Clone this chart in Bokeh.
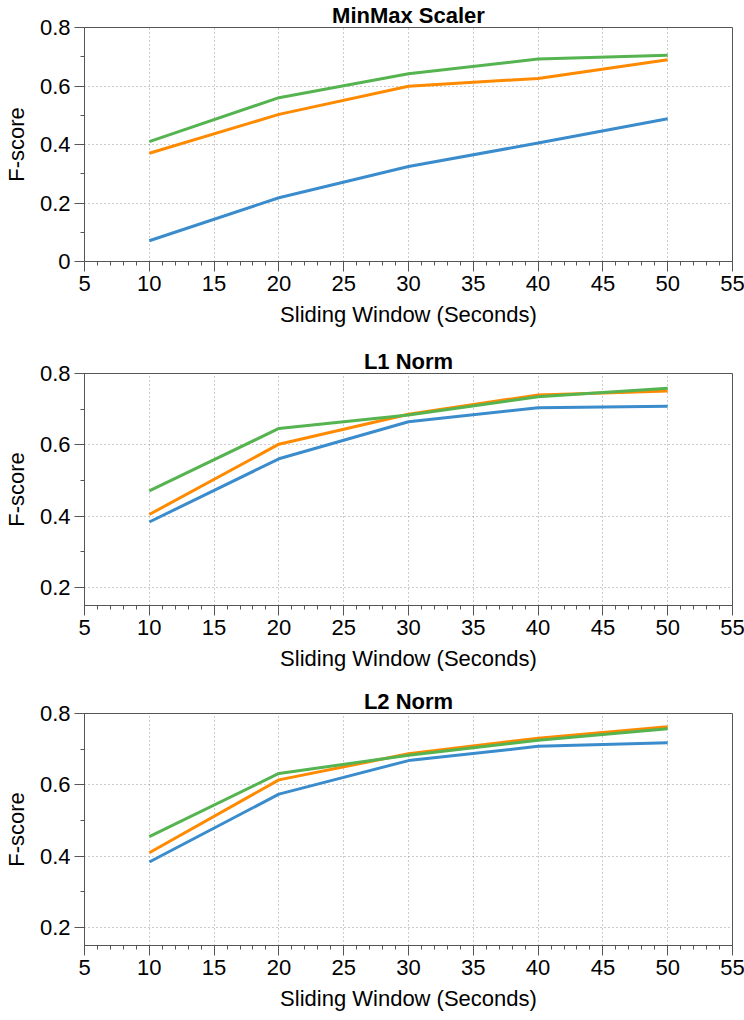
from bokeh.plotting import figure
from bokeh.layouts import column
from bokeh.models import FixedTicker, SingleIntervalTicker, Range1d
from bokeh.embed import file_html
from bokeh.resources import INLINE

# ---- data ----
windows = [10, 20, 30, 40, 50]
titles = ["MinMax Scaler", "L1 Norm", "L2 Norm"]

minmax_blue = [0.071, 0.218, 0.325, 0.405, 0.488]
minmax_orange = [0.370, 0.503, 0.599, 0.626, 0.690]
minmax_green = [0.410, 0.560, 0.642, 0.692, 0.705]

l1_blue = [0.384, 0.561, 0.665, 0.704, 0.708]
l1_orange = [0.405, 0.602, 0.686, 0.740, 0.751]
l1_green = [0.471, 0.646, 0.684, 0.735, 0.759]

l2_blue = [0.384, 0.574, 0.668, 0.708, 0.718]
l2_orange = [0.410, 0.614, 0.687, 0.731, 0.763]
l2_green = [0.455, 0.632, 0.683, 0.725, 0.757]

y_ticks_full = [0, 0.2, 0.4, 0.6, 0.8]
y_minor_full = [0.1, 0.3, 0.5, 0.7]
y_ticks_part = [0.2, 0.4, 0.6, 0.8]
y_minor_part = [0.3, 0.5, 0.7]

COLORS = ["#3a8ccc", "#ff8a00", "#55b450"]
FONT = "Liberation Sans"
AX = "#555555"


def make(title, series, ylo, yticks, yminor, frame_h, top, bottom):
    p = figure(frame_width=648, frame_height=frame_h,
               x_range=Range1d(5, 55), y_range=Range1d(ylo, 0.8),
               output_backend="svg", toolbar_location=None,
               min_border_left=72, min_border_right=16,
               min_border_top=top, min_border_bottom=bottom)
    p.title.text = title
    p.title.align = "center"
    p.title.text_font = FONT
    p.title.text_font_size = "22px"
    p.title.text_font_style = "bold"
    p.title.text_color = "black"
    p.title.standoff = 0

    for ys, c in zip(series, COLORS):
        p.line(windows, ys, line_color=c, line_width=3)

    p.xaxis.ticker = SingleIntervalTicker(interval=5, num_minor_ticks=5)
    p.yaxis.ticker = FixedTicker(ticks=yticks, minor_ticks=yminor)
    p.yaxis.major_label_overrides = {0: "0"}

    for ax in (p.xaxis[0], p.yaxis[0]):
        ax.axis_line_color = AX
        ax.major_tick_line_color = AX
        ax.minor_tick_line_color = AX
        ax.major_tick_out = 10
        ax.major_tick_in = 0
        ax.minor_tick_out = 4
        ax.minor_tick_in = 0
        ax.major_label_text_font = FONT
        ax.major_label_text_font_size = "22px"
        ax.major_label_text_color = "black"
        ax.axis_label_text_font = FONT
        ax.axis_label_text_font_size = "22px"
        ax.axis_label_text_font_style = "normal"
        ax.axis_label_text_color = "black"
        ax.major_label_standoff = 4
    p.xaxis.axis_label = "Sliding Window (Seconds)"
    p.yaxis.axis_label = "F-score"
    p.xaxis.axis_label_standoff = 8
    p.yaxis.axis_label_standoff = 8

    for g in (p.xgrid[0], p.ygrid[0]):
        g.grid_line_color = "#999999"
        g.grid_line_dash = "1 3"
        g.grid_line_width = 1
    p.xgrid.ticker = SingleIntervalTicker(interval=5)

    p.outline_line_color = AX
    p.outline_line_width = 1
    p.background_fill_color = "white"
    p.border_fill_color = "white"
    return p


p1 = make(titles[0], [minmax_blue, minmax_orange, minmax_green], 0.0,
          y_ticks_full, y_minor_full, 234, 20, 78)
p2 = make(titles[1], [l1_blue, l1_orange, l1_green], 0.15,
          y_ticks_part, y_minor_part, 232, 34, 74)
p3 = make(titles[2], [l2_blue, l2_orange, l2_green], 0.15,
          y_ticks_part, y_minor_part, 232, 34, 62)

layout = column(p1, p2, p3, spacing=0)
open("out.html", "w").write(file_html(layout, INLINE))
